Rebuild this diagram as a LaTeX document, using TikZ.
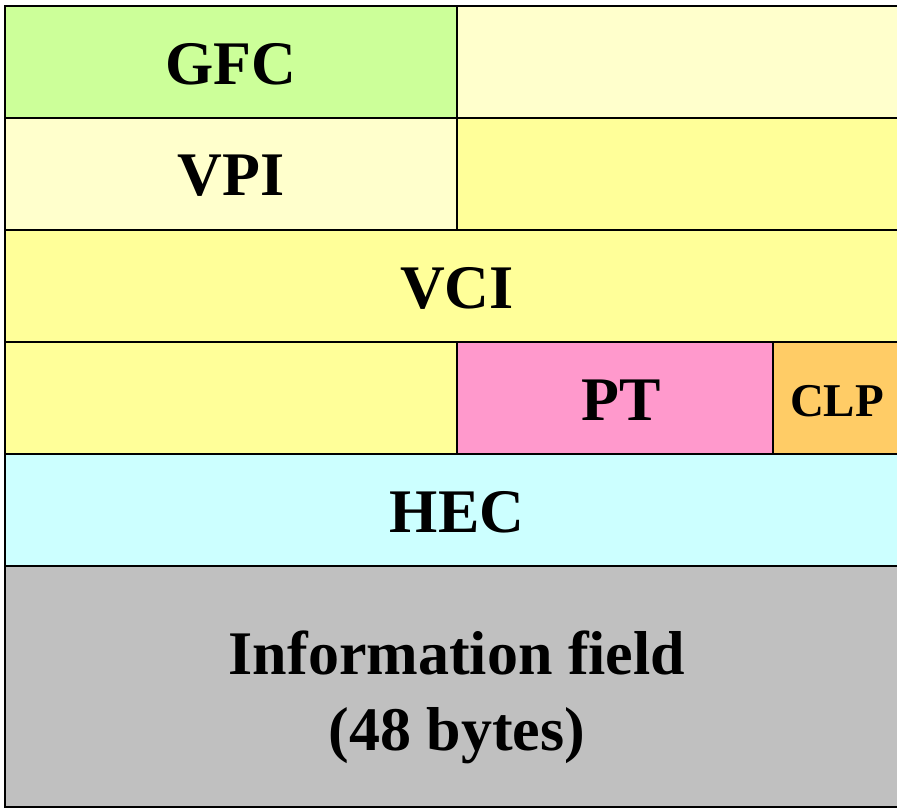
\documentclass[tikz,border=0pt]{standalone}
\usepackage{fontspec}
\setmainfont{Liberation Serif}
\definecolor{gfcgreen}{HTML}{CCFF99}
\definecolor{paleyel}{HTML}{FFFFCC}
\definecolor{yel}{HTML}{FFFF99}
\definecolor{ptpink}{HTML}{FF99CC}
\definecolor{clporange}{HTML}{FFCC66}
\definecolor{heccyan}{HTML}{CCFFFF}
\definecolor{infogray}{HTML}{C0C0C0}
\tikzset{
  cell/.style={draw=black, line width=1.6pt, inner sep=0pt, align=center,
    minimum height=112pt, font=\fontsize{62}{76}\selectfont\bfseries},
  halfcell/.style={cell, minimum width=452pt},
  fullcell/.style={cell, minimum width=904pt},
  smallcell/.style={cell, font=\fontsize{47}{56}\selectfont\bfseries},
  label/.style={inner sep=0pt, align=center, font=\fontsize{62}{76}\selectfont\bfseries},
}
\begin{document}
\begin{tikzpicture}[x=1pt, y=-1pt]
  \useasboundingbox (0,0) rectangle (897,808);
  \clip (0,0) rectangle (897,808);
  \fill[white] (0,0) rectangle (897,808);
  % header: GFC, VPI, VCI, PT, CLP, HEC
  \node[halfcell, fill=gfcgreen] (gfc) at (231,62) {};
  \node[label] (gfctext) at (231,64) {GFC};
  \node[halfcell, fill=paleyel] (gfcrest) at (683,62) {};
  \node[halfcell, fill=paleyel] (vpi) at (231,174) {};
  \node[label] (vpitext) at (231,176) {VPI};
  \node[halfcell, fill=yel] (vpirest) at (683,174) {};
  \node[fullcell, fill=yel] (vci) at (457,286) {};
  \node[label] (vcitext) at (457,288) {VCI};
  \node[halfcell, fill=yel] (vcirest) at (231,398) {};
  \node[cell, fill=ptpink, minimum width=316pt] (pt) at (615,398) {};
  \node[label] (pttext) at (621,400) {PT};
  \node[smallcell, fill=clporange, minimum width=136pt] (clp) at (841,398) {};
  \node[label, font=\fontsize{47}{56}\selectfont\bfseries] (clptext) at (837,401) {CLP};
  \node[fullcell, fill=heccyan] (hec) at (457,510) {};
  \node[label] (hectext) at (457,512) {HEC};
  % payload
  \node[fullcell, fill=infogray, minimum height=241pt] (info) at (457,686.5) {};
  \node[label] (infotext) at (457,697) {Information field\\(48 bytes)};
\end{tikzpicture}
\end{document}
